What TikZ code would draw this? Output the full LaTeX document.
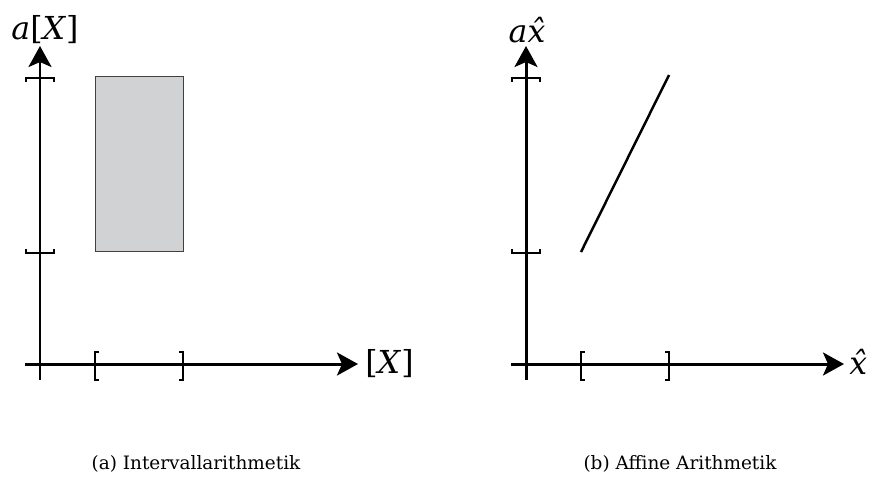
\documentclass[tikz,border=0pt]{standalone}
\usepackage{fontspec}
\setmainfont{DejaVu Serif}
\usetikzlibrary{arrows.meta}
\definecolor{boxgray}{HTML}{D1D2D4}

\begin{document}
\begin{tikzpicture}[x=0.02cm,y=-0.02cm,axis/.style={-{Stealth[length=0.42cm,width=0.46cm,inset=0.1cm]},line width=1.7pt},brk/.style={line width=1.2pt},lbl/.style={font=\fontsize{18}{22}\selectfont,inner sep=0pt},captxt/.style={font=\fontsize{10.5}{13}\selectfont,inner sep=0pt}]
\useasboundingbox (0,0) rectangle (871,484);
% (a) intervals
\coordinate (ya0) at (40,380);
\coordinate (ya1) at (40,46);
\coordinate (xa0) at (25,364);
\coordinate (xa1) at (358,364);
\draw[fill=boxgray,draw=black!75,line width=0.5pt] (95,76) rectangle (183,251);
\draw[axis] (ya0) -- (ya1);
\draw[axis] (xa0) -- (xa1);
\draw[brk] (26,249) -- (26,253) -- (54,253) -- (54,249);
\draw[brk] (26,82) -- (26,78) -- (54,78) -- (54,82);
\draw[brk] (99,352) -- (95,352) -- (95,380) -- (99,380);
\draw[brk] (179,352) -- (183,352) -- (183,380) -- (179,380);
\node[lbl] (ylaba) at (45,30) {\textit{a}[\textit{X}]};
\node[lbl,anchor=west] (xlaba) at (365,364) {[\textit{X}]};
\node[captxt] (capa) at (196,464) {(a) Intervallarithmetik};
% (b) affine forms
\coordinate (yb0) at (526,380);
\coordinate (yb1) at (526,46);
\coordinate (xb0) at (511,364);
\coordinate (xb1) at (844,364);
\coordinate (lo) at (581,252);
\coordinate (hi) at (669,75);
\draw[axis] (yb0) -- (yb1);
\draw[axis] (xb0) -- (xb1);
\draw[brk] (512,249) -- (512,253) -- (540,253) -- (540,249);
\draw[brk] (512,82) -- (512,78) -- (540,78) -- (540,82);
\draw[brk] (585,352) -- (581,352) -- (581,380) -- (585,380);
\draw[brk] (665,352) -- (669,352) -- (669,380) -- (665,380);
\draw[line width=1.4pt] (lo) -- (hi);
\node[lbl] (ylabb) at (527,30) {\textit{a\^{x}}};
\node[lbl,anchor=west] (xlabb) at (849,362) {\textit{\^{x}}};
\node[captxt] (capb) at (680,464) {(b) Affine Arithmetik};
\end{tikzpicture}
\end{document}
